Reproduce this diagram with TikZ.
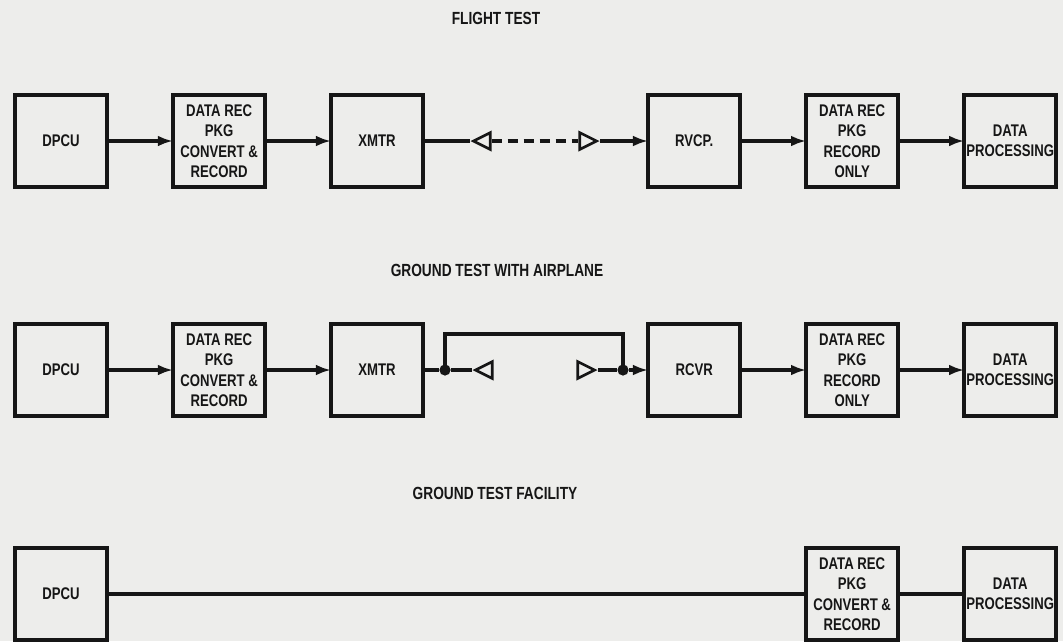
\documentclass[tikz,border=0pt]{standalone}
\usepackage{fontspec}
\newfontfamily\blockfont{Liberation Sans}[FakeStretch=0.78]
\usepackage{tikz}
\usetikzlibrary{arrows.meta,shapes.geometric,positioning}
\definecolor{paper}{RGB}{237,237,235}
\definecolor{ink}{RGB}{22,22,22}

\begin{document}
\begin{tikzpicture}[
    x=0.025cm,y=-0.025cm,
    node distance=1.65cm,
    box/.style={draw=ink,line width=2.6pt,minimum width=2.3cm,minimum height=2.3cm,
                inner sep=1pt,outer sep=0pt,align=center,text=ink,
                font=\blockfont\bfseries\fontsize{12}{14.5}\selectfont},
    ttl/.style={text=ink,font=\blockfont\bfseries\fontsize{12.5}{14.5}\selectfont},
    wire/.style={ink,line width=2.2pt},
    arr/.style={wire,-{Latex[length=3.8mm,width=2.7mm]}},
    ant/.style={draw=ink,line width=1.9pt,isosceles triangle,isosceles triangle stretches,
                minimum width=0.42cm,minimum height=0.42cm,inner sep=0pt},
    junction/.style={circle,fill=ink,minimum size=0.28cm,inner sep=0pt},
  ]
    \useasboundingbox (0,0) rectangle (1063,641);
    \fill[paper] (0,0) rectangle (1063,641);

    \node[ttl](ttlA) at (496,18) {FLIGHT TEST};
    \node[box](dpcuA) at (61,141) {DPCU};
    \node[box,right=of dpcuA](recA){DATA REC\\PKG\\CONVERT \&\\RECORD};
    \node[box,right=of recA](xmtrA){XMTR};
    \node[box,right=5.625cm of xmtrA](rcvA){RVCP.};
    \node[box,right=of rcvA](onlyA){DATA REC\\PKG\\RECORD\\ONLY};
    \node[box,right=of onlyA](procA){DATA\\PROCESSING};
    \node[ant,shape border rotate=180,anchor=apex](txA) at (470,141) {};
    \node[ant,anchor=apex](rxA) at (600,141) {};
    \draw[arr](dpcuA)--(recA);
    \draw[arr](recA)--(xmtrA);
    \draw[wire](xmtrA)--(txA.apex);
    \draw[wire,dash pattern=on 2.6mm off 1.4mm](txA.lower side)--(rxA.lower side);
    \draw[arr](rxA.apex)--(rcvA);
    \draw[arr](rcvA)--(onlyA);
    \draw[arr](onlyA)--(procA);

    \node[ttl](ttlB) at (497,270) {GROUND TEST WITH AIRPLANE};
    \node[box](dpcuB) at (61,370) {DPCU};
    \node[box,right=of dpcuB](recB){DATA REC\\PKG\\CONVERT \&\\RECORD};
    \node[box,right=of recB](xmtrB){XMTR};
    \node[box,right=5.625cm of xmtrB](rcvB){RCVR};
    \node[box,right=of rcvB](onlyB){DATA REC\\PKG\\RECORD\\ONLY};
    \node[box,right=of onlyB](procB){DATA\\PROCESSING};
    \node[junction](jnB1) at (445,370) {};
    \node[junction](jnB2) at (623,370) {};
    \coordinate (loopB) at (0,334);
    \node[ant,shape border rotate=180,anchor=apex](txB) at (472,370) {};
    \node[ant,anchor=apex](rxB) at (598,370) {};
    \draw[arr](dpcuB)--(recB);
    \draw[arr](recB)--(xmtrB);
    \draw[wire](xmtrB)--(jnB1)--(txB.apex);
    \draw[wire](jnB1.center)--(jnB1 |- loopB)-|(jnB2.center);
    \draw[wire](rxB.apex)--(jnB2);
    \draw[arr](jnB2)--(rcvB);
    \draw[arr](rcvB)--(onlyB);
    \draw[arr](onlyB)--(procB);

    \node[ttl](ttlC) at (495,493) {GROUND TEST FACILITY};
    \node[box](dpcuC) at (61,594) {DPCU};
    \node[box](recC) at (onlyB |- dpcuC) {DATA REC\\PKG\\CONVERT \&\\RECORD};
    \node[box](procC) at (procB |- dpcuC) {DATA\\PROCESSING};
    \draw[wire](dpcuC)--(recC);
    \draw[wire](recC)--(procC);
\end{tikzpicture}
\end{document}
